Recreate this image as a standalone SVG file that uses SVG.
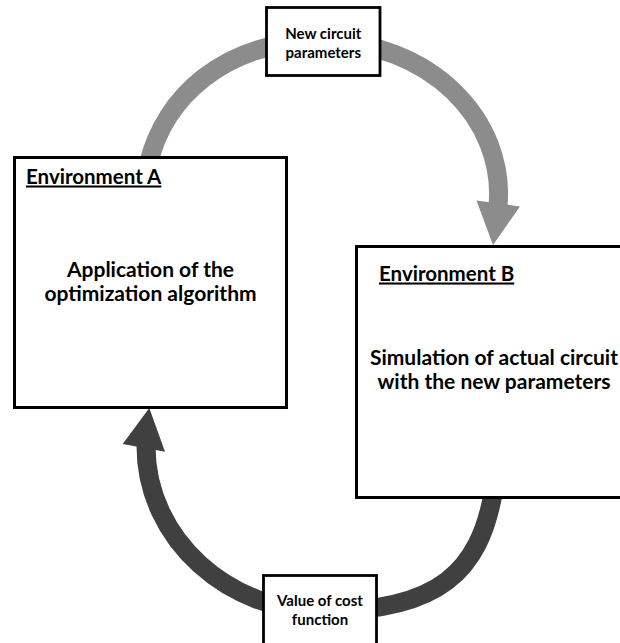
<svg xmlns="http://www.w3.org/2000/svg" width="620" height="643" viewBox="0 0 620 643">
  <style>
    .box { fill: #ffffff; stroke: #000000; stroke-width: 3; }
    .lbl { fill: #ffffff; stroke: #000000; stroke-width: 2.8; }
    text { font-family: Lato, "Liberation Sans", sans-serif; font-weight: bold; fill: #000000; text-anchor: middle; }
    .title { font-size: 20.5px; text-decoration: underline; text-anchor: start; }
    .main { font-size: 21px; }
    .small { font-size: 15px; }
    .band { fill: none; stroke-width: 19; stroke-linecap: butt; }
  </style>
  <rect width="620" height="643" fill="#ffffff"/>
  <g id="connectors">
    <g id="arrow-top">
      <path class="band" stroke="#8c8c8c" d="M148.5,164 C164,97 225,41 320,41 C430,41 506,120 498,206"/>
      <polygon fill="#8c8c8c" points="476.5,200.5 520,206.5 493,245"/>
    </g>
    <g id="arrow-bottom">
      <path class="band" stroke="#404040" d="M493,494 C479,570 440,611 325,611 C230,613 146,540 146,446"/>
      <polygon fill="#404040" points="122.7,444 165,451.7 149.3,408"/>
    </g>
  </g>
  <g id="env-a">
    <rect class="box" x="14.5" y="157.5" width="272" height="250"/>
    <text class="title" x="26" y="183.5">Environment A</text>
    <text class="main" x="150.5" y="277">Application of the</text>
    <text class="main" x="150.5" y="301">optimization algorithm</text>
  </g>
  <g id="env-b">
    <rect class="box" x="356.5" y="246.5" width="280" height="251"/>
    <text class="title" x="379" y="280.5">Environment B</text>
    <text class="main" x="494" y="365">Simulation of actual circuit</text>
    <text class="main" x="494" y="389">with the new parameters</text>
  </g>
  <g id="new-params">
    <rect class="lbl" x="266.5" y="7.5" width="113.5" height="68"/>
    <text class="small" x="323.3" y="38.5">New circuit</text>
    <text class="small" x="323.3" y="57.5">parameters</text>
  </g>
  <g id="cost-value">
    <rect class="lbl" x="263.5" y="575.5" width="113" height="80"/>
    <text class="small" x="320" y="605.5">Value of cost</text>
    <text class="small" x="320" y="624.5">function</text>
  </g>
</svg>
